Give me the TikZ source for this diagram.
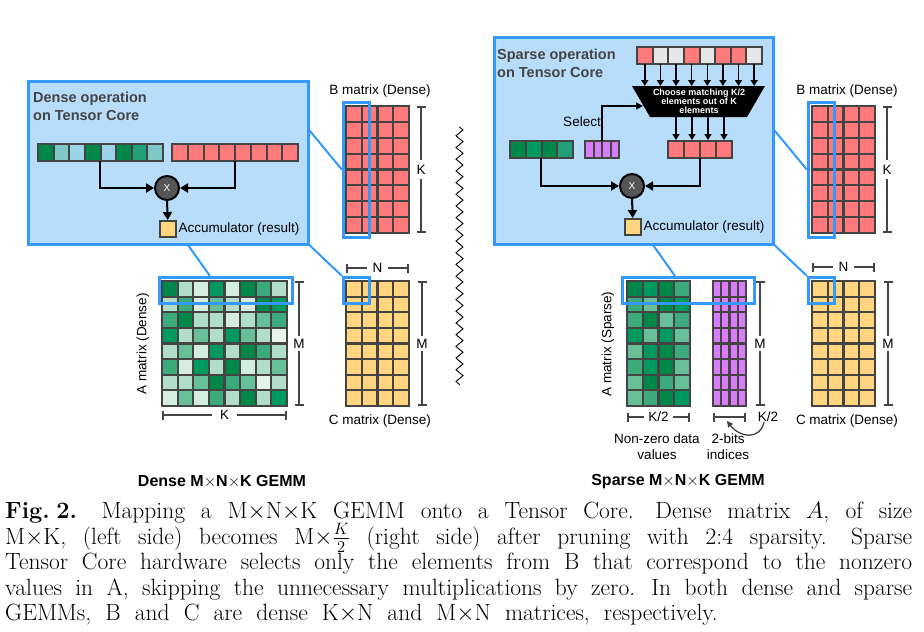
\RequirePackage{fix-cm}
\documentclass[tikz,border=0pt]{standalone}
\usepackage{graphicx}
\usepackage{fontspec}
\newfontfamily\arialf{Liberation Sans}
\usetikzlibrary{arrows.meta,decorations.pathmorphing}
\definecolor{pblue}{HTML}{3399FF}
\definecolor{pfill}{HTML}{B8DDFB}
\definecolor{gridc}{HTML}{444444}
\definecolor{redc}{HTML}{FF7B7B}
\definecolor{yelc}{HTML}{FFD67F}
\definecolor{purc}{HTML}{D97CF7}
\definecolor{lgray}{HTML}{E6E6E6}
\definecolor{ga}{HTML}{00884A}
\definecolor{gb}{HTML}{009A5E}
\definecolor{gc}{HTML}{3DAA7C}
\definecolor{gd}{HTML}{66BF96}
\definecolor{ge}{HTML}{B3DDCB}
\definecolor{gf}{HTML}{D4EDE0}
\definecolor{gg}{HTML}{E6F4EC}
\definecolor{tealc}{HTML}{80C8C8}
\definecolor{lbc}{HTML}{9AD4E6}
\definecolor{gmid}{HTML}{22A078}
\definecolor{ttlc}{HTML}{444444}
\definecolor{xfill}{HTML}{555555}
\newcommand\lblfont{\arialf\fontsize{13.5}{16}\selectfont}
\newcommand\ttlfont{\arialf\bfseries\fontsize{14.5}{18}\selectfont}
\newcommand\ugrid[7]{\foreach \ii in {1,...,#3}{\foreach \jj in {1,...,#4}{\draw[cellst,fill=#7] (#1+\ii*#5-#5, #2+\jj*#6-#6) rectangle ++(#5,#6);}}}
\newcommand\tx{\ensuremath{{\times}}}
\tikzset{
  cellst/.style={draw=gridc, line width=2.2pt},
  scell/.style={draw=gridc, line width=2pt},
  hl/.style={draw=pblue, line width=2.5pt, inner sep=0pt, anchor=north west},
  panel/.style={draw=pblue, fill=pfill, line width=2.5pt, inner sep=0pt, anchor=north west},
  conn/.style={draw=pblue, line width=2pt},
  brace/.style={draw=gridc, line width=2pt, arrows={Bar[width=9pt,line width=2pt]-Bar[width=9pt,line width=2pt]}},
  blbl/.style={fill=white, font=\lblfont, inner sep=3pt},
  lbl/.style={font=\lblfont, inner sep=0pt},
  ttl/.style={font=\ttlfont, text=ttlc, align=left, anchor=north west, inner sep=0pt},
  arr/.style={draw=black, line width=2pt, -{Triangle[length=8pt,width=9pt]}},
  sarr/.style={draw=black, line width=1.5pt, -{Triangle[length=6pt,width=7pt]}},
  xnode/.style={circle, fill=xfill, draw=black, line width=2pt, minimum size=24pt, inner sep=0pt, text=white, font=\arialf\fontsize{10}{12}\selectfont},
  accnode/.style={rectangle, fill=yelc, draw=gridc, line width=1.5pt, minimum size=16pt, inner sep=0pt},
  gemm/.style={font=\arialf\bfseries\fontsize{16}{18}\selectfont},
}
\begin{document}
\begin{tikzpicture}[x=1pt,y=-1pt]
\useasboundingbox (0,0) rectangle (924,632);
\fill[white] (0,0) rectangle (924,632);

% ================= LEFT (dense) =================
\foreach \rowl [count=\r from 0] in {{ga,ge,gf,gb,gf,ga,gc,ge},{ge,gc,gf,gd,ge,gf,ga,gb},{gc,ga,ge,ge,gf,ge,gd,gc},{gb,ge,gd,ge,gb,gd,ge,gg},{ge,gd,gf,gb,ge,ga,gc,ge},{gc,gf,gb,ge,ga,gf,ge,gd},{ge,ge,gd,ga,gc,gd,gg,ge},{gf,gd,gf,gc,ge,ga,ge,gb}}{
  \foreach \cc [count=\k from 0] in \rowl {
    \draw[cellst, fill=\cc] (162+\k*15.625, 281+\r*15.625) rectangle ++(15.625,15.625);
  }
}
\ugrid{346}{281}{4}{8}{15.75}{15.625}{yelc}
\ugrid{346}{106}{4}{8}{15.75}{15.875}{redc}

\draw[brace] (299,281) -- (299,406) node[midway, blbl] (lM1) {M};
\draw[brace] (162,415) -- (287,415) node[midway, blbl, inner xsep=8pt] (lK1) {K};
\draw[brace] (346,268) -- (409,268) node[midway, blbl, inner xsep=6pt] (lN) {N};
\draw[brace] (422,281) -- (422,406) node[midway, blbl] (lM2) {M};
\draw[brace] (421,106) -- (421,233) node[midway, blbl, inner ysep=5pt] (lK2) {K};

\node[lbl, rotate=90] (lAlab) at (143,344) {A matrix (Dense)};
\node[lbl] (lBlab) at (380,91) {B matrix (Dense)};
\node[lbl] (lClab) at (380,421) {C matrix (Dense)};

\node[hl, minimum width=133pt, minimum height=26pt] (lAbox) at (158,276) {};
\node[hl, minimum width=26pt, minimum height=26pt] (lCbox) at (342,276) {};
\node[hl, minimum width=26pt, minimum height=135pt] (lBbox) at (342,101) {};

\coordinate (lA0) at (183,238);
\coordinate (lB0) at (300,119);
\coordinate (lC0) at (302,238);
\draw[conn] (lA0) -- ([xshift=52pt]lAbox.north west);
\draw[conn] (lB0) -- (lBbox.west);
\draw[conn] (lC0) -- (lCbox.north west);

\node[panel, minimum width=280pt, minimum height=163pt] (lpanel) at (27,80) {};
\node[ttl] (lttl) at (33,92) {Dense operation\\on Tensor Core};
\foreach \cc [count=\k from 0] in {ga,tealc,lbc,ga,lbc,ga,gmid,tealc}{
  \draw[scell, fill=\cc] (38+\k*15.625, 144) rectangle ++(15.625,17);
}
\foreach \k in {0,...,7}{
  \draw[scell, fill=redc] (172+\k*15.75, 144) rectangle ++(15.75,17);
}
\node[xnode] (lx) at (167,188) {X};
\node[accnode, anchor=north west] (lacc) at (159,220) {};
\node[lbl, anchor=west] (lacclab) at ([xshift=2pt]lacc.east) {Accumulator (result)};
\coordinate (lgsrc) at (100,161);
\coordinate (lrsrc) at (235,161);
\draw[arr] (lgsrc) |- (lx.west);
\draw[arr] (lrsrc) |- (lx.east);
\draw[arr] (lx.south) -- (lacc.north);

\draw[black, line width=0.9pt, decorate, decoration={zigzag, segment length=11.7pt, amplitude=3.5pt}] (459.5,127) -- (459.5,385);

% ================= RIGHT (sparse) =================
\foreach \rowl [count=\r from 0] in {{ga,gb,ga,gc},{gc,gd,ga,gb},{gc,ga,gd,gc},{gb,gd,gb,gd},{gd,gb,ga,gc},{gc,gb,ga,gd},{gd,ga,gc,gd},{gd,gc,ga,gb}}{
  \foreach \cc [count=\k from 0] in \rowl {
    \draw[cellst, fill=\cc] (627+\k*15.75, 281+\r*15.625) rectangle ++(15.75,15.625);
  }
}
\ugrid{713}{281}{4}{8}{8.25}{15.625}{purc}
\ugrid{812}{281}{4}{8}{15.75}{15.625}{yelc}
\ugrid{812}{106}{4}{8}{15.75}{15.875}{redc}

\draw[brace] (760,281) -- (760,406) node[midway, blbl] (rM1) {M};
\draw[brace] (627,417) -- (690,417) node[midway, blbl, inner xsep=4pt] (rK1) {K/2};
\draw[brace] (713,417) -- (746,417);
\node[lbl] (rK2) at (768,417) {K/2};
\draw[brace] (812,267) -- (875,267) node[midway, blbl, inner xsep=6pt] (rN) {N};
\draw[brace] (888,281) -- (888,406) node[midway, blbl] (rM2) {M};
\draw[brace] (887,106) -- (887,233) node[midway, blbl, inner ysep=5pt] (rK3) {K};
\draw[draw=gridc, line width=1.3pt, -{Triangle[length=6pt,width=6pt]}] ([xshift=-4pt]rK2.south) .. controls (760,440) and (740,438) .. (727,421);

\node[lbl, rotate=90] (rAlab) at (608,344) {A matrix (Sparse)};
\node[lbl, align=center] (rvals) at (657,447) {Non-zero data\\values};
\node[lbl, align=center] (ridx) at (728,447) {2-bits\\indices};
\node[lbl] (rBlab) at (847,91) {B matrix (Dense)};
\node[lbl] (rClab) at (847,421) {C matrix (Dense)};

\node[hl, minimum width=132pt, minimum height=26pt] (rAbox) at (621,276) {};
\node[hl, minimum width=26pt, minimum height=26pt] (rCbox) at (807,276) {};
\node[hl, minimum width=26pt, minimum height=135pt] (rBbox) at (807,101) {};

\coordinate (rA0) at (648,238);
\coordinate (rB0) at (765,119);
\coordinate (rC0) at (767,238);
\draw[conn] (rA0) -- ([xshift=54pt]rAbox.north west);
\draw[conn] (rB0) -- (rBbox.west);
\draw[conn] (rC0) -- (rCbox.north west);

\node[panel, minimum width=279pt, minimum height=207pt] (rpanel) at (493,36) {};
\node[ttl] (rttl) at (497,48.5) {Sparse operation\\on Tensor Core};
\foreach \cc [count=\k from 0] in {redc,lgray,lgray,redc,lgray,redc,redc,lgray}{
  \draw[scell, fill=\cc] (637+\k*15.625, 47) rectangle ++(15.625,17);
}
\foreach \k in {0,...,7}{
  \coordinate (top\k) at (644.8+\k*15.625, 64);
  \draw[sarr] (top\k) -- ++(0,22);
}
\fill[black] (632,86) -- (765,86) -- (747,117) -- (650,117) -- cycle;
\node[text=white, font=\arialf\bfseries\fontsize{9}{9.2}\selectfont, align=center, inner sep=0pt] (choose) at (699,101) {Choose matching K/2\\elements out of K\\elements};
\foreach \k in {0,...,3}{
  \coordinate (mid\k) at (676+\k*16, 117);
  \draw[sarr] (mid\k) -- ++(0,23);
}
\foreach \k in {0,...,3}{
  \draw[scell, fill=redc] (668+\k*16, 141) rectangle ++(16,17);
}
\foreach \cc [count=\k from 0] in {ga,gb,ga,gmid}{
  \draw[scell, fill=\cc] (510+\k*15.75, 141) rectangle ++(15.75,17);
}
\foreach \k in {0,...,3}{
  \draw[scell, fill=purc] (585+\k*8.5, 141) rectangle ++(8.5,17);
}
\coordinate (selsrc) at (602,141);
\coordinate (selend) at (643,106);
\draw[line width=1.5pt, -{Triangle[length=7pt,width=7pt]}] (selsrc) |- (selend);
\node[lbl] (sellab) at (582,122) {Select};
\node[xnode] (rx) at (632,186) {X};
\node[accnode, anchor=north west] (racc) at (624,218) {};
\node[lbl, anchor=west] (racclab) at ([xshift=2pt]racc.east) {Accumulator (result)};
\coordinate (rgsrc) at (541,158);
\coordinate (rrsrc) at (700,158);
\draw[arr] (rgsrc) |- (rx.west);
\draw[arr] (rrsrc) |- (rx.east);
\draw[arr] (rx.south) -- (racc.north);

% ================= bottom titles and caption =================
\node[gemm] (dtitle) at (222,482) {Dense M$\times$N$\times$K GEMM};
\node[gemm] (stitle) at (678,482) {Sparse M$\times$N$\times$K GEMM};
\node[anchor=north west, inner sep=0pt] (cap) at (5,502) {\parbox{907pt}{\fontsize{23.5}{25.5}\selectfont\spaceskip=0.6em plus 0.6em minus 0.2em
\hbox to 907pt{\textbf{Fig.\kern0.28em2.}\hspace{1.05em}Mapping a M\tx N\tx K GEMM onto a Tensor Core. Dense matrix $A$, of size}
\hbox to 907pt{M\tx K, (left side) becomes M\tx$\frac{K}{2}$ (right side) after pruning with 2:4 sparsity. Sparse}
\hbox to 907pt{Tensor Core hardware selects only the elements from B that correspond to the nonzero}
\hbox to 907pt{values in A, skipping the unnecessary multiplications by zero. In both dense and sparse}
\hbox{GEMMs, B and C are dense K\tx N and M\tx N matrices, respectively.}}};
\end{tikzpicture}
\end{document}
